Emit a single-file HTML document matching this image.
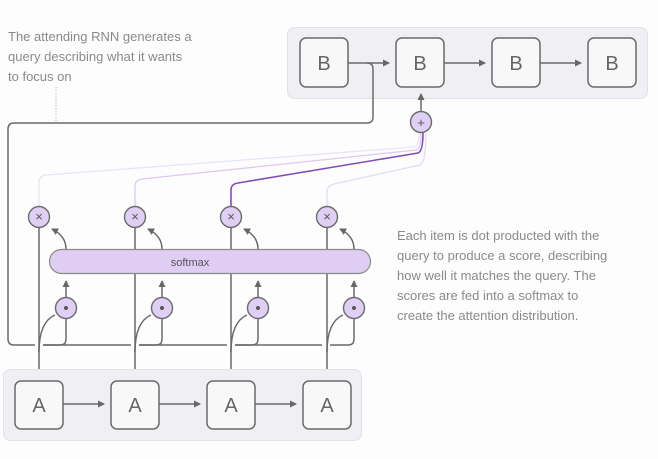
<!DOCTYPE html>
<html><head><meta charset="utf-8"><style>
body{margin:0;background:#fdfdfd;width:658px;height:459px;overflow:hidden}
svg{display:block}
text{font-family:"Liberation Sans","DejaVu Sans",sans-serif}
</style></head><body>
<svg width="658" height="459" viewBox="0 0 658 459" xmlns="http://www.w3.org/2000/svg">
<defs>
<marker id="ar" markerWidth="8" markerHeight="8" refX="6" refY="4" orient="auto" markerUnits="userSpaceOnUse">
<path d="M0,0.5 L7,4 L0,7.5 Z" fill="#666"/></marker>
</defs>
<rect width="658" height="459" fill="#fdfdfd"/>
<g font-size="13" fill="#8a8a8a">
<text x="8" y="41">The attending RNN generates a</text>
<text x="8" y="61">query describing what it wants</text>
<text x="8" y="81">to focus on</text>
<text x="397" y="240">Each item is dot producted with the</text>
<text x="397" y="260">query to produce a score, describing</text>
<text x="397" y="280">how well it matches the query. The</text>
<text x="397" y="300">scores are fed into a softmax to</text>
<text x="397" y="320">create the attention distribution.</text>
</g>
<line x1="56" y1="87" x2="56" y2="121" stroke="#bbb" stroke-dasharray="1.5,1.5"/>
<!-- containers -->
<rect x="287.5" y="27.5" width="360" height="71" rx="7" fill="#f0eff4" stroke="#e2e1e8"/>
<rect x="3.5" y="369.5" width="358" height="71" rx="7" fill="#f0eff4" stroke="#e2e1e8"/>
<!-- purple query lines -->
<g fill="none" stroke-width="1.3">
<path d="M39,206 V182 Q39,176 46,175 L414,147 Q419,146 419,133" stroke="#ece2f6"/>
<path d="M135,206 V186 Q135,180 142,179 L416,150 Q421,149 421,133" stroke="#ddc9ef"/>
<path d="M231,206 V190 Q231,184 238,183 L418,153 Q423,151 423,133" stroke="#7e4fb8" stroke-width="1.6"/>
<path d="M327,206 V192 Q327,186 334,184 L420,165 Q426,162 426,133" stroke="#e6daf4"/>
</g>
<!-- loop line -->
<g fill="none" stroke="#6a6a6a" stroke-width="1.5">
<path d="M348,63 H367 Q373,63 373,69 V117 Q373,123 367,123 H14 Q8,123 8,129 V339 Q8,345 14,345 H35"/>
<path d="M43,345 H60 Q66,345 66,339 V319"/>
<path d="M43,345 H131"/>
<path d="M139,345 H156 Q162,345 162,339 V319"/>
<path d="M139,345 H227"/>
<path d="M235,345 H252 Q258,345 258,339 V319"/>
<path d="M235,345 H322"/>
<path d="M330,345 H348 Q354,345 354,339 V319"/>
<line x1="367" y1="63" x2="389" y2="63" marker-end="url(#ar)"/>
<line x1="444" y1="63" x2="485" y2="63" marker-end="url(#ar)"/>
<line x1="540" y1="63" x2="581" y2="63" marker-end="url(#ar)"/>
<line x1="421" y1="111" x2="421" y2="94" marker-end="url(#ar)"/>
<line x1="63" y1="404" x2="104" y2="404" marker-end="url(#ar)"/>
<line x1="159" y1="404" x2="200" y2="404" marker-end="url(#ar)"/>
<line x1="255" y1="404" x2="296" y2="404" marker-end="url(#ar)"/>
</g>
<!-- per-column -->
<g fill="none" stroke="#6a6a6a" stroke-width="1.5">
<path d="M39,369 V228 M135,369 V228 M231,369 V228 M327,369 V228"/>
<path d="M39,352 Q39,322 55,315 M135,352 Q135,322 151,315 M231,352 Q231,322 247,315 M327,352 Q327,322 343,315"/>
<path d="M66,297 V281" marker-end="url(#ar)"/>
<path d="M162,297 V281" marker-end="url(#ar)"/>
<path d="M258,297 V281" marker-end="url(#ar)"/>
<path d="M354,297 V281" marker-end="url(#ar)"/>
<path d="M66,249 Q66,236 52,229" marker-end="url(#ar)"/>
<path d="M162,249 Q162,236 148,229" marker-end="url(#ar)"/>
<path d="M258,249 Q258,236 244,229" marker-end="url(#ar)"/>
<path d="M354,249 Q354,236 340,229" marker-end="url(#ar)"/>
</g>
<!-- gaps for verticals at softmax -->
<rect x="49.5" y="249.5" width="321" height="24" rx="12" fill="#dfcdf3" stroke="#8a8a8a" stroke-width="1.2"/>
<text x="190" y="266" font-size="11" fill="#555" text-anchor="middle">softmax</text>
<g fill="#e0cff4" stroke="#6a6a6a" stroke-width="1.4">
<circle cx="39" cy="217" r="10.5"/><circle cx="135" cy="217" r="10.5"/><circle cx="231" cy="217" r="10.5"/><circle cx="327" cy="217" r="10.5"/>
<circle cx="66" cy="308" r="10.5"/><circle cx="162" cy="308" r="10.5"/><circle cx="258" cy="308" r="10.5"/><circle cx="354" cy="308" r="10.5"/>
<circle cx="421" cy="122" r="10.5"/>
</g>
<g fill="#555" font-size="13" text-anchor="middle">
<text x="39" y="221">×</text><text x="135" y="221">×</text><text x="231" y="221">×</text><text x="327" y="221">×</text>
<text x="421" y="127">+</text>
</g>
<g fill="#555"><circle cx="66" cy="308" r="2"/><circle cx="162" cy="308" r="2"/><circle cx="258" cy="308" r="2"/><circle cx="354" cy="308" r="2"/></g>
<!-- boxes -->
<g fill="#f8f8f8" stroke="#6a6a6a" stroke-width="1.5">
<rect x="300" y="38" width="48" height="49" rx="6"/><rect x="396" y="38" width="48" height="49" rx="6"/>
<rect x="492" y="38" width="48" height="49" rx="6"/><rect x="588" y="38" width="48" height="49" rx="6"/>
<rect x="15" y="381" width="48" height="48" rx="6"/><rect x="111" y="381" width="48" height="48" rx="6"/>
<rect x="207" y="381" width="48" height="48" rx="6"/><rect x="303" y="381" width="48" height="48" rx="6"/>
</g>
<g fill="#666" font-size="20" text-anchor="middle">
<text x="324" y="70">B</text><text x="420" y="70">B</text><text x="516" y="70">B</text><text x="612" y="70">B</text>
<text x="39" y="412">A</text><text x="135" y="412">A</text><text x="231" y="412">A</text><text x="327" y="412">A</text>
</g>
</svg>
</body></html>
